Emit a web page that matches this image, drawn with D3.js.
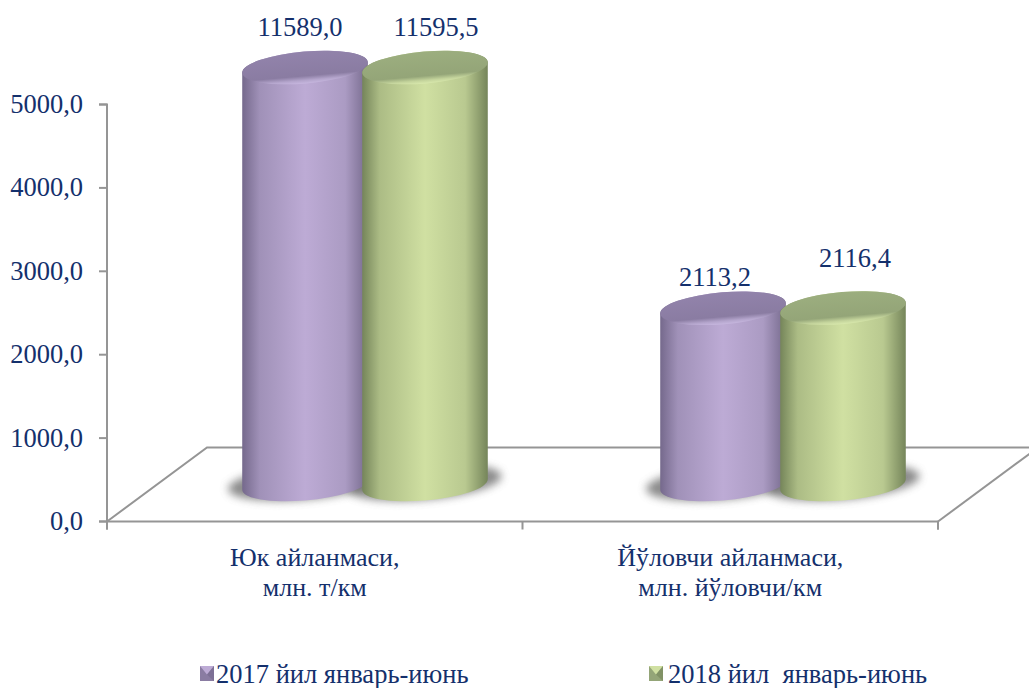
<!DOCTYPE html>
<html><head><meta charset="utf-8">
<script src="https://cdn.jsdelivr.net/npm/d3@7"></script>
<style>html,body{margin:0;background:#fff}svg{display:block}text{font-family:"Liberation Serif",serif;fill:#14306c;white-space:pre}</style>
</head><body><svg id="c" width="1029" height="688"></svg>
<script>
const categories=[["Юк айланмаси,","млн. т/км"],["Йўловчи айланмаси,","млн. йўловчи/км"]];
const seriesNames=["2017 йил январь-июнь","2018 йил  январь-июнь"];
const values2017=[11589.0,2113.2];
const values2018=[11595.5,2116.4];
const labels2017=["11589,0","2113,2"];
const labels2018=["11595,5","2116,4"];
const yTicks=[0,1000,2000,3000,4000,5000];
const palettes=[{edge:"#75698c",mid:"#bdabd5",top:"#8a7ca2",rim:"#c6b6de"},{edge:"#75855a",mid:"#d0e0a2",top:"#94a578",rim:"#d8e8ac"}];
const labelPos=[[[300,36],[715,286]],[[436,36],[855,267]]];

const svg=d3.select("#c"),defs=svg.append("defs");
const y=d3.scaleLinear().domain([0,5000]).range([521.5,104.5]).clamp(true);
const x=d3.scaleBand().domain([0,1]).range([107,943]);
const depthX=100,depthY=74,barShiftX=49,barShiftY=-37;
const barStep=120,a=63,b=16,phi=-5;

defs.append("filter").attr("id","blur").attr("x","-30%").attr("y","-60%").attr("width","160%").attr("height","220%").append("feGaussianBlur").attr("stdDeviation",4);
palettes.forEach((p,i)=>{
 const g=defs.append("linearGradient").attr("id","body"+i);
 [[0,p.edge],[.14,d3.interpolateRgb(p.edge,p.mid)(.6)],[.5,p.mid],[.82,d3.interpolateRgb(p.edge,p.mid)(.75)],[1,p.edge]]
  .forEach(([o,c])=>g.append("stop").attr("offset",o).attr("stop-color",c));
 const t=defs.append("linearGradient").attr("id","top"+i).attr("x1",0).attr("y1",0).attr("x2",0).attr("y2",1);
 [[0,d3.rgb(p.top).brighter(.15)],[.76,p.top],[.9,d3.interpolateRgb(p.top,p.rim)(.7)],[1,p.rim]]
  .forEach(([o,c])=>t.append("stop").attr("offset",o).attr("stop-color",c));
});

// floor
const grey="#959595",y0=y(0);
const floor=svg.append("g").attr("fill","none").attr("stroke",grey).attr("stroke-width",2);
const line=d3.line();
floor.append("path").attr("d",line([[107,y0],[107+depthX,y0-depthY],[1029+10,y0-depthY]]));
floor.append("path").attr("d",line([[938,y0],[938+depthX,y0-depthY]]));

// axes
const yAxis=d3.axisLeft(y).offset(0).tickValues(yTicks).tickSize(8).tickFormat(d=>d3.format(".1f")(d).replace(".",","));
const gy=svg.append("g").attr("transform","translate(107,0)").call(yAxis);
gy.selectAll("path,line").attr("stroke",grey).attr("stroke-width",2);
gy.selectAll("text").attr("font-size",26.5).attr("dy","0.32em").attr("x",-24);
const xb=d3.scaleLinear().domain([0,2]).range([107,938]);
const gx=svg.append("g").attr("transform",`translate(0,${y0})`).call(d3.axisBottom(xb).offset(0).tickValues([0,1,2]).tickSize(8).tickFormat(""));
gx.selectAll("path,line").attr("stroke",grey).attr("stroke-width",2);

// cylinders
const rad=phi*Math.PI/180,c=Math.cos(rad),s=Math.sin(rad);
const tt=Math.atan2(-b*s,a*c);
const ex=[a*Math.cos(tt)*c-b*Math.sin(tt)*s,a*Math.cos(tt)*s+b*Math.sin(tt)*c];
const right=ex[0]>0?ex:[-ex[0],-ex[1]];
function cylinder(g,cx,topY,botY,i){
 g.append("ellipse").attr("cx",cx).attr("cy",botY-2).attr("rx",a+14).attr("ry",b+1).attr("transform",`rotate(${phi} ${cx} ${botY})`).attr("fill","#6e6e6e").attr("opacity",.8).attr("filter","url(#blur)");
 return ()=>{
 const d=`M${cx-right[0]},${topY-right[1]}L${cx-right[0]},${botY-right[1]}A${a},${b} ${phi} 0 0 ${cx+right[0]},${botY+right[1]}L${cx+right[0]},${topY+right[1]}A${a},${b} ${phi} 0 0 ${cx-right[0]},${topY-right[1]}Z`;
 g.append("path").attr("d",d).attr("fill",`url(#body${i})`);
 g.append("ellipse").attr("cx",cx).attr("cy",topY).attr("rx",a).attr("ry",b).attr("transform",`rotate(${phi} ${cx} ${topY})`).attr("fill",`url(#top${i})`);
 };
}
const seriesValues=[values2017,values2018],seriesLabels=[labels2017,labels2018];
const gBars=svg.append("g");
const later=[];
seriesValues.forEach((vals,i)=>vals.forEach((v,k)=>{
 const cx=x(k)+x.bandwidth()/2+barShiftX+(i-.5)*barStep;
 later.push(cylinder(gBars,cx,y(v)+barShiftY,y(0)+barShiftY,i));
}));
later.forEach(f=>f());

// data labels
seriesLabels.forEach((ls,i)=>ls.forEach((t,k)=>{
 svg.append("text").attr("x",labelPos[i][k][0]).attr("y",labelPos[i][k][1]).attr("text-anchor","middle").attr("font-size",26.5).text(t);
}));

// category labels
categories.forEach((ls,k)=>ls.forEach((t,j)=>{
 svg.append("text").attr("x",xb(k+.5)).attr("y",566+j*30).attr("text-anchor","middle").attr("font-size",26).text(t);
}));

// legend
const legendX=[200,649],legendText=[216,668],ms=14;
seriesNames.forEach((t,i)=>{
 const p=palettes[i],lx=legendX[i],ly=666;
 svg.append("rect").attr("x",lx).attr("y",ly).attr("width",ms).attr("height",ms+1).attr("fill",p.top);
 svg.append("path").attr("d",line([[lx,ly],[lx+ms,ly],[lx+ms/2,ly+ms*.6]])+"Z").attr("fill",p.mid);
 svg.append("path").attr("d",line([[lx+ms,ly],[lx+ms,ly+ms+1],[lx+ms/2,ly+ms*.6]])+"Z").attr("fill",p.edge).attr("opacity",.6);
 svg.append("text").attr("x",legendText[i]).attr("y",683).attr("font-size",26.5).attr("xml:space","preserve").text(t);
});
</script></body></html>
